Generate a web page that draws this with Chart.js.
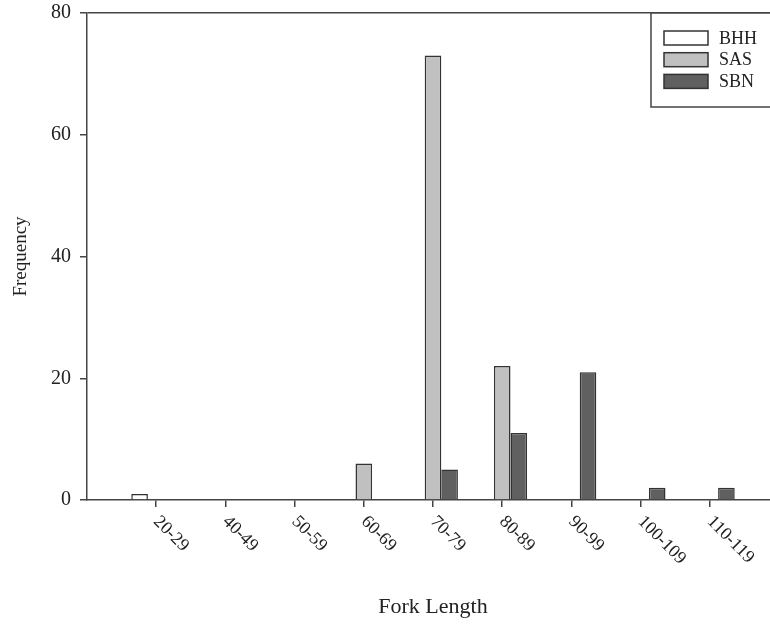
<!DOCTYPE html>
<html>
<head>
<meta charset="utf-8">
<script src="https://cdn.jsdelivr.net/npm/chart.js@4.4.1/dist/chart.umd.min.js"></script>
<style>
  html, body { margin: 0; padding: 0; overflow: hidden; background: #fff; }
  canvas { display: block; }
</style>
</head>
<body>
<canvas id="forkChart" width="780" height="625"></canvas>
<script>
// length classes (blank slots at both ends pad the axis like the original)
const lengthClasses = ['', '20-29', '40-49', '50-59', '60-69', '70-79', '80-89', '90-99', '100-109', '110-119', ''];

const bhh = [null, 1, 0, 0, 0, 0, 0, 0, 0, 0, null];
const sas = [null, 0, 0, 0, 6, 73, 22, 0, 0, 0, null];
const sbn = [null, 0, 0, 0, 0, 5, 11, 21, 2, 2, null];

const yTicks = [0, 20, 40, 60, 80];

const serif = "'Liberation Serif', 'Times New Roman', serif";
const axisColor = '#444';

// rotated x labels + boxed legend, drawn by hand
const extraDraw = {
    id: 'extraDraw',
    afterDraw(chart) {
        const ctx = chart.ctx;
        const xs = chart.scales.x;
        const area = chart.chartArea;

        ctx.save();
        ctx.font = '18px ' + serif;
        ctx.fillStyle = '#222';
        ctx.textAlign = 'left';
        ctx.textBaseline = 'middle';
        for (let i = 0; i < lengthClasses.length; i++) {
            if (!lengthClasses[i]) continue;
            const px = xs.getPixelForTick(i);
            ctx.save();
            ctx.translate(px, area.bottom + 19);
            ctx.rotate(Math.PI / 4);
            ctx.fillText(lengthClasses[i], 0, 0);
            ctx.restore();
        }
        ctx.restore();

        // legend box
        const lx = area.right - 128;
        const ly = area.top;
        ctx.save();
        ctx.fillStyle = '#fff';
        ctx.fillRect(lx, ly, 200, 94);
        ctx.strokeStyle = axisColor;
        ctx.lineWidth = 1.5;
        ctx.strokeRect(lx, ly, 200, 94);
        ctx.font = '18px ' + serif;
        ctx.textAlign = 'left';
        ctx.textBaseline = 'middle';
        chart.data.datasets.forEach((ds, i) => {
            const cy = ly + 25 + i * 21.7;
            ctx.fillStyle = ds.backgroundColor;
            ctx.fillRect(lx + 13, cy - 7, 44, 14);
            ctx.strokeStyle = '#333';
            ctx.lineWidth = 1.5;
            ctx.strokeRect(lx + 13, cy - 7, 44, 14);
            ctx.fillStyle = '#222';
            ctx.fillText(ds.label, lx + 68, cy + 1);
        });
        ctx.restore();
    }
};

const ctx = document.getElementById('forkChart').getContext('2d');
const forkChart = new Chart(ctx, {
    type: 'bar',
    data: {
        labels: lengthClasses,
        datasets: [
            { label: 'BHH', data: bhh, backgroundColor: '#ffffff', borderColor: '#333', borderWidth: 1.5 },
            { label: 'SAS', data: sas, backgroundColor: '#c0c0c0', borderColor: '#333', borderWidth: 1.5 },
            { label: 'SBN', data: sbn, backgroundColor: '#606060', borderColor: '#333', borderWidth: 1.5 }
        ]
    },
    options: {
        responsive: false,
        animation: false,
        devicePixelRatio: 1,
        layout: { padding: { top: 13, left: 0, right: 1, bottom: 0 } },
        datasets: { bar: { barPercentage: 1, categoryPercentage: 0.72 } },
        plugins: {
            legend: { display: false },
            tooltip: { enabled: false }
        },
        scales: {
            x: {
                offset: false,
                ticks: { display: false },
                grid: {
                    offset: false,
                    drawOnChartArea: false,
                    drawTicks: true,
                    tickLength: 7,
                    lineWidth: 1.5,
                    tickColor: (c) => lengthClasses[c.index] ? axisColor : 'transparent'
                },
                border: { display: true, color: axisColor, width: 1.5 },
                title: {
                    display: true,
                    text: 'Fork Length',
                    color: '#222',
                    font: { family: serif, size: 22 },
                    padding: { top: 0, bottom: 5 }
                },
                afterFit(scale) { scale.height = 125; }
            },
            y: {
                min: 0,
                max: 80,
                afterBuildTicks(scale) { scale.ticks = yTicks.map(v => ({ value: v })); },
                ticks: {
                    color: '#222',
                    font: { family: serif, size: 20, lineHeight: 0.3 },
                    padding: 9
                },
                grid: {
                    drawOnChartArea: true,
                    tickLength: 7,
                    lineWidth: 1.5,
                    color: (c) => c.tick && c.tick.value === 80 ? axisColor : 'transparent',
                    tickColor: axisColor
                },
                border: { display: true, color: axisColor, width: 1.5 },
                title: {
                    display: true,
                    text: 'Frequency',
                    color: '#222',
                    font: { family: serif, size: 19 },
                    padding: { top: 10, bottom: 0 }
                },
                afterFit(scale) { scale.width = 87; }
            }
        }
    },
    plugins: [extraDraw]
});
</script>
</body>
</html>
